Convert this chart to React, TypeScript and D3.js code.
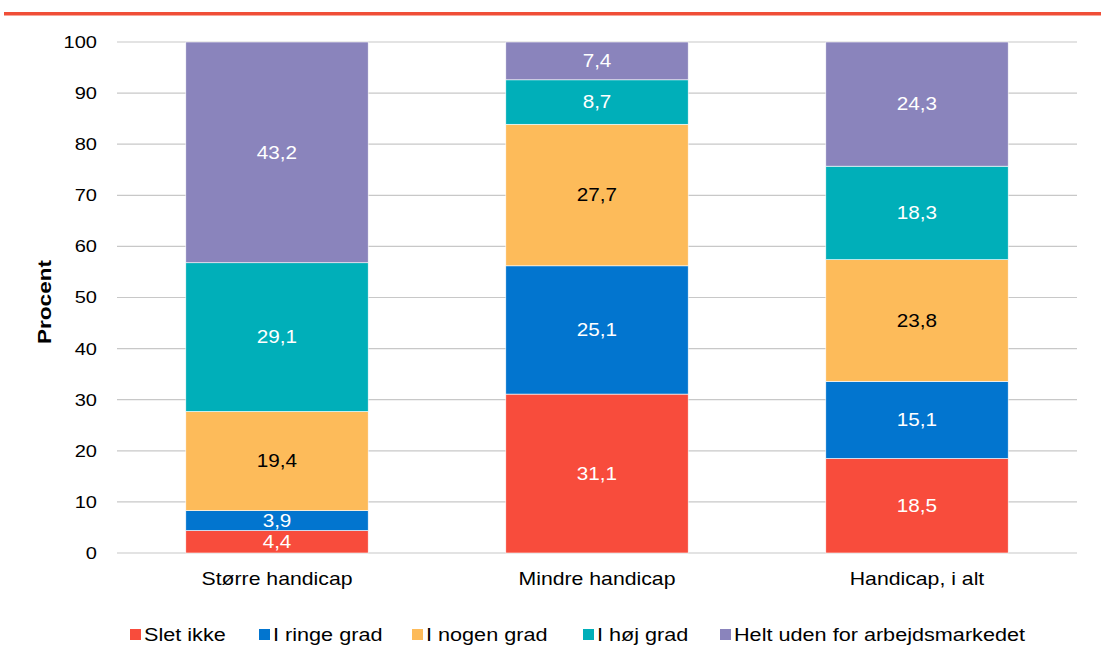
import React from "react";
import * as d3 from "d3";

const categories = ["Større handicap", "Mindre handicap", "Handicap, i alt"];
const seriesNames = ["Slet ikke", "I ringe grad", "I nogen grad", "I høj grad", "Helt uden for arbejdsmarkedet"];
const sletIkke = [4.4, 31.1, 18.5];
const iRingeGrad = [3.9, 25.1, 15.1];
const iNogenGrad = [19.4, 27.7, 23.8];
const iHoejGrad = [29.1, 8.7, 18.3];
const heltUden = [43.2, 7.4, 24.3];
const colors = ["#F84C3C", "#0275CF", "#FDBB5A", "#00AFB9", "#8A84BC"];
const labelColors = ["#fff", "#fff", "#000", "#fff", "#fff"];
const yTicks = [0, 10, 20, 30, 40, 50, 60, 70, 80, 90, 100];

function T(props: { x: number; y: number; sx?: number; anchor?: string; size: number; fill?: string; weight?: string; children: any }) {
  const { x, y, sx = 1.17, anchor = "start", size, fill = "#000", weight = "normal", children } = props;
  return (
    <g transform={`translate(${x},${y}) scale(${sx},1)`}>
      <text x={0} y={0} dy="0.35em" textAnchor={anchor as any} fontSize={size} fill={fill} fontWeight={weight}>
        {children}
      </text>
    </g>
  );
}

export default function App() {
  const W = 1101, H = 646;
  const left = 117, right = 1077, top = 42, bottom = 553;
  const x = d3.scaleBand().domain(categories).range([left, right]).paddingInner(0.43).paddingOuter(0.215);
  const y = d3.scaleLinear().domain([0, 100]).range([bottom, top]);
  const seriesVals = [sletIkke, iRingeGrad, iNogenGrad, iHoejGrad, heltUden];
  const rows = categories.map((c, i) => {
    const o: any = { cat: c };
    seriesNames.forEach((s, j) => (o[s] = seriesVals[j][i]));
    return o;
  });
  const stacked = d3.stack().keys(seriesNames)(rows);
  const font = "'Liberation Sans', Arial, sans-serif";
  const legendX = [130, 259, 412, 583, 720];
  const fmt = (v: number) => v.toFixed(1).replace(".", ",");
  return (
    <svg width={W} height={H} style={{ position: "absolute", left: 0, top: 0 }} fontFamily={font}>
      <rect x={0} y={0} width={W} height={H} fill="#fff" />
      <rect x={4} y={12} width={W - 4} height={3.5} fill="#F04E37" />
      {yTicks.map((t) => (
        <g key={t}>
          <line x1={left} x2={right} y1={y(t)} y2={y(t)} stroke="#C8C8C8" strokeWidth={1.2} />
          <T x={97} y={y(t)} anchor="end" size={17} sx={1.18}>{t}</T>
        </g>
      ))}
      <text transform={`translate(51,302) rotate(-90)`} textAnchor="middle" fontSize={18} fontWeight="bold" fill="#000" textLength={84} lengthAdjust="spacingAndGlyphs">Procent</text>
      {stacked.map((s, j) => (
        <g key={s.key}>
          {s.map((d, i) => {
            const y0 = y(d[0]), y1 = y(d[1]);
            const bx = x(categories[i])!;
            return (
              <g key={i}>
                <rect x={bx} y={y1} width={x.bandwidth()} height={y0 - y1} fill={colors[j]} stroke="#fff" strokeWidth={0.6} />
                <T x={bx + x.bandwidth() / 2} y={(y0 + y1) / 2} anchor="middle" size={18} sx={1.15} fill={labelColors[j]}>
                  {fmt(d[1] - d[0])}
                </T>
              </g>
            );
          })}
        </g>
      ))}
      {categories.map((c) => (
        <T key={c} x={x(c)! + x.bandwidth() / 2} y={579} anchor="middle" size={18} sx={1.18}>{c}</T>
      ))}
      {seriesNames.map((s, j) => (
        <g key={s}>
          <rect x={legendX[j]} y={629} width={11} height={11} fill={colors[j]} />
          <T x={legendX[j] + 14} y={635} size={18.5} sx={1.17}>{s}</T>
        </g>
      ))}
    </svg>
  );
}
